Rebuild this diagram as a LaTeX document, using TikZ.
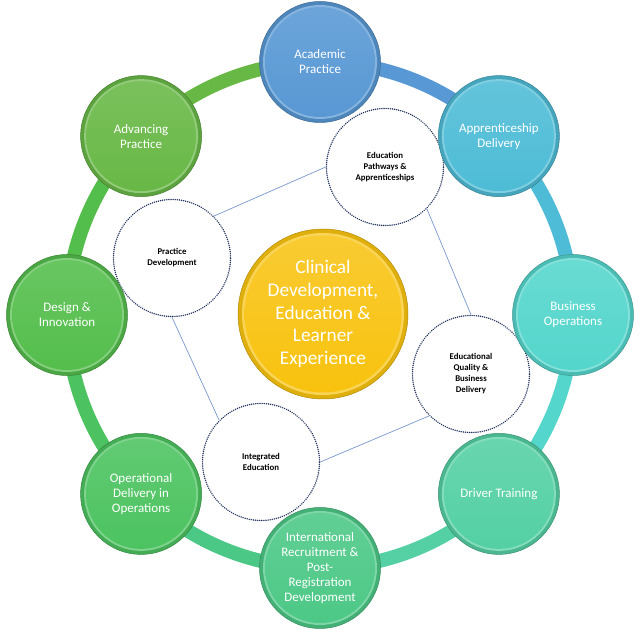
\documentclass[tikz,border=0pt]{standalone}
\usepackage{fontspec}
\setmainfont{Carlito}
\definecolor{cAca}{RGB}{88,152,212}
\definecolor{cApp}{RGB}{78,188,214}
\definecolor{cBus}{RGB}{84,214,204}
\definecolor{cDrv}{RGB}{84,208,164}
\definecolor{cInt}{RGB}{76,200,134}
\definecolor{cOpe}{RGB}{76,195,96}
\definecolor{cDes}{RGB}{84,190,76}
\definecolor{cAdv}{RGB}{104,184,70}
\definecolor{cYel}{RGB}{248,194,14}
\definecolor{cDot}{RGB}{35,52,95}
\definecolor{cLink}{RGB}{120,150,205}
\begin{document}
\begin{tikzpicture}[x=1pt,y=1pt,
  btn/.style={circle, minimum size=121pt, inner sep=0pt, fill=#1!88!black,
    draw=#1!70!black, line width=0.5pt, text=white, align=center,
    font=\fontsize{13}{15}\selectfont,
    path picture={
      \fill[#1!72!white] (path picture bounding box.center) circle (57pt);
      \shade[top color=#1!88!white, bottom color=#1] (path picture bounding box.center) circle (55pt);}},
  btnbig/.style={circle, minimum size=170pt, inner sep=0pt, fill=#1!90!black,
    draw=#1!72!black, line width=0.5pt, text=white, align=center,
    font=\fontsize{19.3}{22.6}\selectfont,
    path picture={
      \fill[#1!70!white] (path picture bounding box.center) circle (81pt);
      \shade[top color=#1!85!white, bottom color=#1] (path picture bounding box.center) circle (78.5pt);}},
  inner/.style={circle, minimum size=117pt, inner sep=0pt, fill=white, draw=cDot,
    line width=1.6pt, dash pattern={on 0.01pt off 2.1pt}, line cap=round,
    text=black, align=center, font=\bfseries\fontsize{8.8}{11}\selectfont},
  link/.style={draw=cLink, line width=0.7pt, solid, line cap=butt}
]
\useasboundingbox (0,0) rectangle (641,630);
\coordinate (C) at (320,315);
% ring: each arc takes the colour of the circle it leaves, clockwise
\foreach \ca [count=\k from 0] in {cAca, cApp, cBus, cDrv, cInt, cOpe, cDes, cAdv} {
  \pgfmathsetmacro\a{90-45*\k}
  \pgfmathsetmacro\e{\a-45.5}
  \draw[line width=14pt, color=\ca] ([shift={(\a:253)}]C) arc[start angle=\a, end angle=\e, radius=253];
}
% inner circles
\node[inner] (pd) at (172,372) {Practice\\Development};
\node[inner] (ep) at (385,463) {Education\\Pathways \&\\Apprenticeships};
\node[inner] (eq) at (471,256) {Educational\\Quality \&\\Business\\Delivery};
\node[inner] (ie) at (261,168) {Integrated\\Education};
\draw[link] (pd.45) -- (ep.west);
\draw[link] (ep.-45) -- (eq.north);
\draw[link] (eq.-135) -- (ie.east);
\draw[link] (ie.135) -- (pd.south);
% outer circles
\node[btn=cAca] (aca) at ([shift={(90:253)}]C) {Academic\\Practice};
\node[btn=cApp] (app) at ([shift={(45:253)}]C) {Apprenticeship\\Delivery};
\node[btn=cBus] (bus) at ([shift={(0:253)}]C) {Business\\Operations};
\node[btn=cDrv] (drv) at ([shift={(-45:253)}]C) {Driver Training};
\node[btn=cInt] (int) at ([shift={(-90:253)}]C) {International\\Recruitment \&\\Post-\\Registration\\Development};
\node[btn=cOpe] (ope) at ([shift={(-135:253)}]C) {Operational\\Delivery in\\Operations};
\node[btn=cDes] (des) at ([shift={(180:253)}]C) {Design \&\\Innovation};
\node[btn=cAdv] (adv) at ([shift={(135:253)}]C) {Advancing\\Practice};
% centre
\node[btnbig=cYel] (ctr) at (323,316) {Clinical\\Development,\\Education \&\\Learner\\Experience};
\end{tikzpicture}
\end{document}
